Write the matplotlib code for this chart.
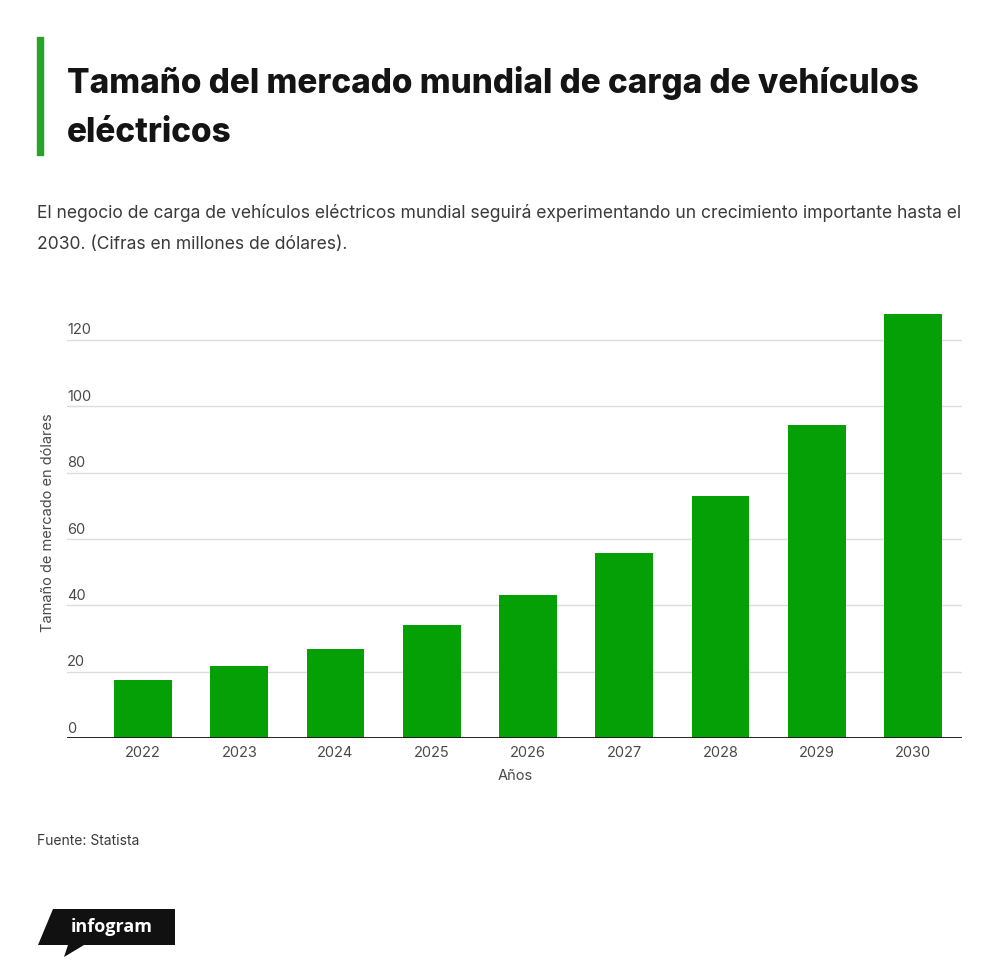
import matplotlib
matplotlib.use("Agg")
import matplotlib.pyplot as plt
from matplotlib.patches import Polygon, Rectangle
from matplotlib.transforms import blended_transform_factory, offset_copy

years = ["2022", "2023", "2024", "2025", "2026", "2027", "2028", "2029", "2030"]
values = [17.6, 21.7, 26.9, 34.1, 43.1, 55.9, 73.0, 94.4, 127.9]
yticks = [0, 20, 40, 60, 80, 100, 120]

title_1 = "Tamaño del mercado mundial de carga de vehículos"
title_2 = "eléctricos"
subtitle_1 = "El negocio de carga de vehículos eléctricos mundial seguirá experimentando un crecimiento importante hasta el"
subtitle_2 = "2030. (Cifras en millones de dólares)."
ylabel = "Tamaño de mercado en dólares"
xlabel = "Años"
source = "Fuente: Statista"

W, H = 1000, 978
fig = plt.figure(figsize=(W / 100, H / 100), dpi=100)
fig.patch.set_facecolor("white")
FONT = "Inter"

def fx(px):
    return px / W

def fy(py):
    return 1 - py / H

# title accent bar
fig.patches.append(Rectangle((fx(37), fy(156)), fx(6), (156 - 38) / H,
                             transform=fig.transFigure, color="#27a327", zorder=3))
fig.text(fx(67), fy(93), title_1,
         fontsize=24, fontweight=800, family=FONT, color="#141414",
         va="baseline", ha="left")
fig.text(fx(67), fy(142), title_2,
         fontsize=24, fontweight=800, family=FONT, color="#141414",
         va="baseline", ha="left")

fig.text(fx(37), fy(218), subtitle_1, fontsize=12.6, family=FONT,
         color="#3a3a3a", va="baseline", ha="left")
fig.text(fx(37), fy(249), subtitle_2, fontsize=12.6, family=FONT,
         color="#3a3a3a", va="baseline", ha="left")

# axes
ax_left, ax_right = 67, 962
ymax = 130
y0_px = 739
y_top_px = y0_px - ymax * 3.317
ax = fig.add_axes([fx(ax_left), fy(y0_px), (ax_right - ax_left) / W, (y0_px - y_top_px) / H])
step = 96.25
x_lo = -0.5 - (143 - 48 - ax_left) / step
x_hi = 8.5 + (ax_right - 913 - 48) / step
ax.set_xlim(x_lo, x_hi)
ax.set_ylim(0, ymax)

xs = list(range(len(years)))
ax.bar(xs, values, width=0.6, color="#05a005", zorder=2)

for t in yticks[1:]:
    ax.axhline(t, color="#dcdcdc", linewidth=1.0, zorder=1)
ax.axhline(0, color="#111111", linewidth=2.0, zorder=3)

for s in ax.spines.values():
    s.set_visible(False)
ax.set_yticks([])
ax.set_xticks(xs)
ax.set_xticklabels(years, fontsize=10.5, family=FONT, color="#4a4a4a")
ax.tick_params(axis="x", length=0, pad=5)

trans = offset_copy(blended_transform_factory(ax.transAxes, ax.transData), fig=fig, x=0, y=2.5, units="points")
for t in yticks:
    ax.text(0.0, t, str(t), transform=trans, fontsize=10.5, family=FONT,
            color="#4a4a4a", ha="left", va="bottom")

fig.text(fx(515), fy(776), xlabel, fontsize=10.5, family=FONT, color="#4a4a4a",
         ha="center", va="center")
fig.text(fx(48), fy(523), ylabel, fontsize=10.5, family=FONT, color="#4a4a4a",
         ha="center", va="center", rotation=90)

fig.text(fx(37), fy(841), source, fontsize=10, family=FONT, color="#3a3a3a",
         ha="left", va="center")

# infogram logo
pts = [(53, 910), (175, 910), (175, 946), (84, 946), (64, 958), (68, 946), (38, 946)]
logo = Polygon([(fx(x), fy(y)) for x, y in pts], closed=True, transform=fig.transFigure,
               facecolor="#111111", edgecolor="none")
fig.patches.append(logo)
fig.text(fx(112), fy(927), "infogram", fontsize=13, fontweight="bold", family="Open Sans",
         color="white", ha="center", va="center")

fig.savefig("out.png", dpi=100, facecolor="white")
